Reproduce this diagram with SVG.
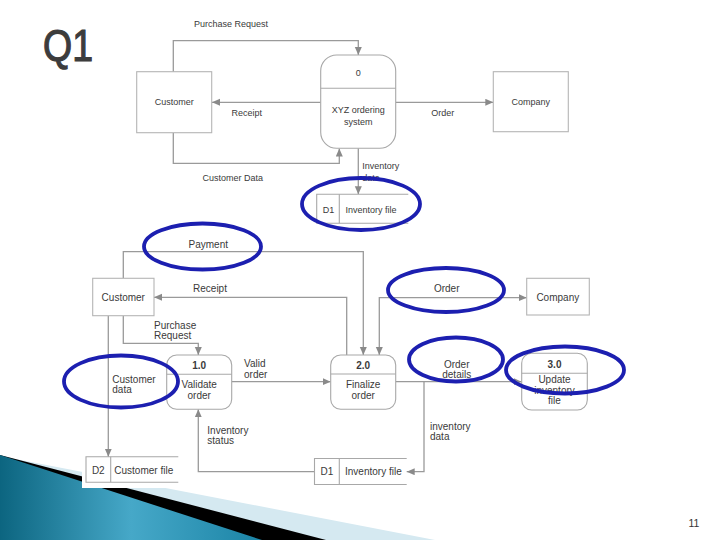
<svg xmlns="http://www.w3.org/2000/svg" width="720" height="540" viewBox="0 0 720 540">
<defs>
<marker id="arr" markerUnits="userSpaceOnUse" markerWidth="9" markerHeight="8" refX="8" refY="3.5" orient="auto-start-reverse">
<path d="M0,0 L8,3.5 L0,7 z" fill="#8a8a8a"/>
</marker>
<linearGradient id="teal" x1="0" y1="0" x2="1" y2="0">
<stop offset="0" stop-color="#0c6580"/>
<stop offset="0.5" stop-color="#46a8c8"/>
<stop offset="1" stop-color="#1b84a6"/>
</linearGradient>
<style>
.t{font-family:"Liberation Sans",Arial,sans-serif;font-size:9px;fill:#3a3a3a}
.b{font-family:"Liberation Sans",Arial,sans-serif;font-size:10px;fill:#3a3a3a}
.c{text-anchor:middle}
.bold{font-weight:bold}
.box{fill:#fff;stroke:#b5b5b5;stroke-width:1.1}
.proc{fill:#fff;stroke:#a8a8a8;stroke-width:1.1}
.st{fill:none;stroke:#a8a8a8;stroke-width:1.1}
.con{fill:none;stroke:#9a9a9a;stroke-width:1.3}
.hl{fill:none;stroke:#1c1fb0;stroke-width:3.8}
</style>
</defs>
<rect width="720" height="540" fill="#fff"/>
<g id="decoration">
<polygon points="0,456 435,540 0,540" fill="#d5e9f1"/>
<polygon points="0,455 326,540 0,540" fill="#000"/>
<polygon points="0,455 262,540 0,540" fill="url(#teal)"/>
<rect x="82" y="440" width="96" height="48" fill="#fff"/>
</g>
<text id="title" x="43" y="61" font-family="'Liberation Sans',Arial,sans-serif" font-size="44" fill="#3c3c3c" stroke="#3c3c3c" stroke-width="1.2" textLength="50" lengthAdjust="spacingAndGlyphs">Q1</text>
<text id="page" x="694" y="527" font-family="'Liberation Sans',Arial,sans-serif" font-size="10.5" text-anchor="middle" fill="#333">11</text>

<g id="connectors">
<polyline class="con" points="173.3,72 173.3,40.7 358.3,40.7 358.3,55" marker-end="url(#arr)"/>
<line class="con" x1="320.7" y1="102.3" x2="212" y2="102.3" marker-end="url(#arr)"/>
<line class="con" x1="395.7" y1="102.3" x2="493.3" y2="102.3" marker-end="url(#arr)"/>
<polyline class="con" points="173.3,133 173.3,163.3 339.3,163.3 339.3,148.5" marker-end="url(#arr)"/>
<line class="con" x1="358.3" y1="148.3" x2="358.3" y2="194.3" marker-end="url(#arr)"/>

<polyline class="con" points="123.3,278.3 123.3,251.7 363.3,251.7 363.3,355" marker-end="url(#arr)"/>
<polyline class="con" points="346.7,355 346.7,297.3 154,297.3" marker-end="url(#arr)"/>
<polyline class="con" points="123.3,315.7 123.3,343.3 198.3,343.3 198.3,355" marker-end="url(#arr)"/>
<line class="con" x1="108.3" y1="315.7" x2="108.3" y2="456.7" marker-end="url(#arr)"/>
<line class="con" x1="231.7" y1="381.7" x2="330.7" y2="381.7" marker-end="url(#arr)"/>
<polyline class="con" points="314.5,471.7 198.3,471.7 198.3,409.3" marker-end="url(#arr)"/>
<polyline class="con" points="379.3,355 379.3,297.7 526.7,297.7" marker-start="url(#arr)" marker-end="url(#arr)"/>
<line class="con" x1="395.7" y1="381.7" x2="521.7" y2="381.7" marker-end="url(#arr)"/>
<polyline class="con" points="424,381.7 424,471.7 406.7,471.7" marker-end="url(#arr)"/>
</g>

<g id="customer-top">
<rect class="box" x="136.7" y="71.7" width="75" height="61"/>
<text class="t c" x="174.2" y="105">Customer</text>
</g>
<g id="company-top">
<rect class="box" x="493.3" y="71.7" width="75" height="60"/>
<text class="t c" x="530.8" y="105">Company</text>
</g>
<g id="process-0">
<rect class="proc" x="320.7" y="55" width="75" height="93.3" rx="16"/>
<line class="st" x1="320.7" y1="88.3" x2="395.7" y2="88.3"/>
<text class="t c" x="358.3" y="76">0</text>
<text class="t c" x="358.3" y="113">XYZ ordering</text>
<text class="t c" x="358.3" y="125">system</text>
</g>
<g id="store-d1-top">
<rect x="316.7" y="194.3" width="91.6" height="29" fill="#fff"/>
<polyline class="st" points="408.3,194.3 316.7,194.3 316.7,223.3 408.3,223.3"/>
<line class="st" x1="339.3" y1="194.3" x2="339.3" y2="223.3"/>
<text class="t c" x="328.5" y="212.5">D1</text>
<text class="t" x="345.5" y="212.5">Inventory file</text>
</g>
<g id="labels-top">
<text class="t c" x="231" y="27">Purchase Request</text>
<text class="t c" x="246.7" y="116">Receipt</text>
<text class="t c" x="442.7" y="116">Order</text>
<text class="t c" x="232.7" y="181">Customer Data</text>
<text class="t" x="362.3" y="169">Inventory</text>
<text class="t" x="362.3" y="181">data</text>
</g>

<g id="customer-bottom">
<rect class="box" x="92.7" y="278.3" width="61.3" height="37.4"/>
<text class="b c" x="123.3" y="300.7">Customer</text>
</g>
<g id="company-bottom">
<rect class="box" x="526.7" y="278.3" width="62.6" height="36.7"/>
<text class="b c" x="557.8" y="300.7">Company</text>
</g>
<g id="process-1">
<rect class="proc" x="166.7" y="355" width="65" height="54.3" rx="10"/>
<line class="st" x1="166.7" y1="374.3" x2="231.7" y2="374.3"/>
<text class="b c bold" x="199.2" y="368.5">1.0</text>
<text class="b c" x="199.2" y="387.7">Validate</text>
<text class="b c" x="199.2" y="398.5">order</text>
</g>
<g id="process-2">
<rect class="proc" x="330.7" y="355" width="65" height="54.3" rx="10"/>
<line class="st" x1="330.7" y1="374" x2="395.7" y2="374"/>
<text class="b c bold" x="363.2" y="368.5">2.0</text>
<text class="b c" x="363.2" y="387.7">Finalize</text>
<text class="b c" x="363.2" y="398.5">order</text>
</g>
<g id="process-3">
<rect class="proc" x="521.7" y="353.3" width="65.6" height="56.7" rx="10"/>
<line class="st" x1="521.7" y1="373.3" x2="587.3" y2="373.3"/>
<text class="b c bold" x="554.5" y="368">3.0</text>
<text class="b c" x="554.5" y="382.5">Update</text>
<text class="b c" x="554.5" y="393.5">inventory</text>
<text class="b c" x="554.5" y="404.2">file</text>
</g>
<g id="store-d2">
<polyline class="st" points="178.3,456.7 86,456.7 86,482.3 178.3,482.3"/>
<line class="st" x1="110.7" y1="456.7" x2="110.7" y2="482.3"/>
<text class="b c" x="98.3" y="473.5">D2</text>
<text class="b" x="114.3" y="473.5">Customer file</text>
</g>
<g id="store-d1-bottom">
<polyline class="st" points="406.7,458.5 314.5,458.5 314.5,484.5 406.7,484.5"/>
<line class="st" x1="339.3" y1="458.5" x2="339.3" y2="484.5"/>
<text class="b c" x="326.9" y="475">D1</text>
<text class="b" x="345" y="475">Inventory file</text>
</g>
<g id="labels-bottom">
<text class="b c" x="208.3" y="247.5">Payment</text>
<text class="b c" x="210" y="291.7">Receipt</text>
<text class="b" x="154" y="328.5">Purchase</text>
<text class="b" x="154" y="338.5">Request</text>
<text class="b" x="244" y="366.7">Valid</text>
<text class="b" x="244" y="377.5">order</text>
<text class="b" x="112.3" y="382.5">Customer</text>
<text class="b" x="112.3" y="392.8">data</text>
<text class="b" x="207.3" y="433.5">Inventory</text>
<text class="b" x="207.3" y="443.5">status</text>
<text class="b c" x="446.7" y="291.7">Order</text>
<text class="b c" x="456.7" y="367.5">Order</text>
<text class="b c" x="456.7" y="377.8">details</text>
<text class="b" x="430" y="429.5">inventory</text>
<text class="b" x="430" y="440">data</text>
</g>

<g id="highlights">
<ellipse class="hl" cx="361" cy="204" rx="59" ry="26"/>
<ellipse class="hl" cx="202.5" cy="246.5" rx="58.5" ry="23"/>
<ellipse class="hl" cx="121" cy="381.5" rx="57" ry="26"/>
<ellipse class="hl" cx="446" cy="290" rx="58" ry="22"/>
<ellipse class="hl" cx="456" cy="359.5" rx="47" ry="22"/>
<ellipse class="hl" cx="565" cy="370" rx="59" ry="23.5"/>
</g>
</svg>
